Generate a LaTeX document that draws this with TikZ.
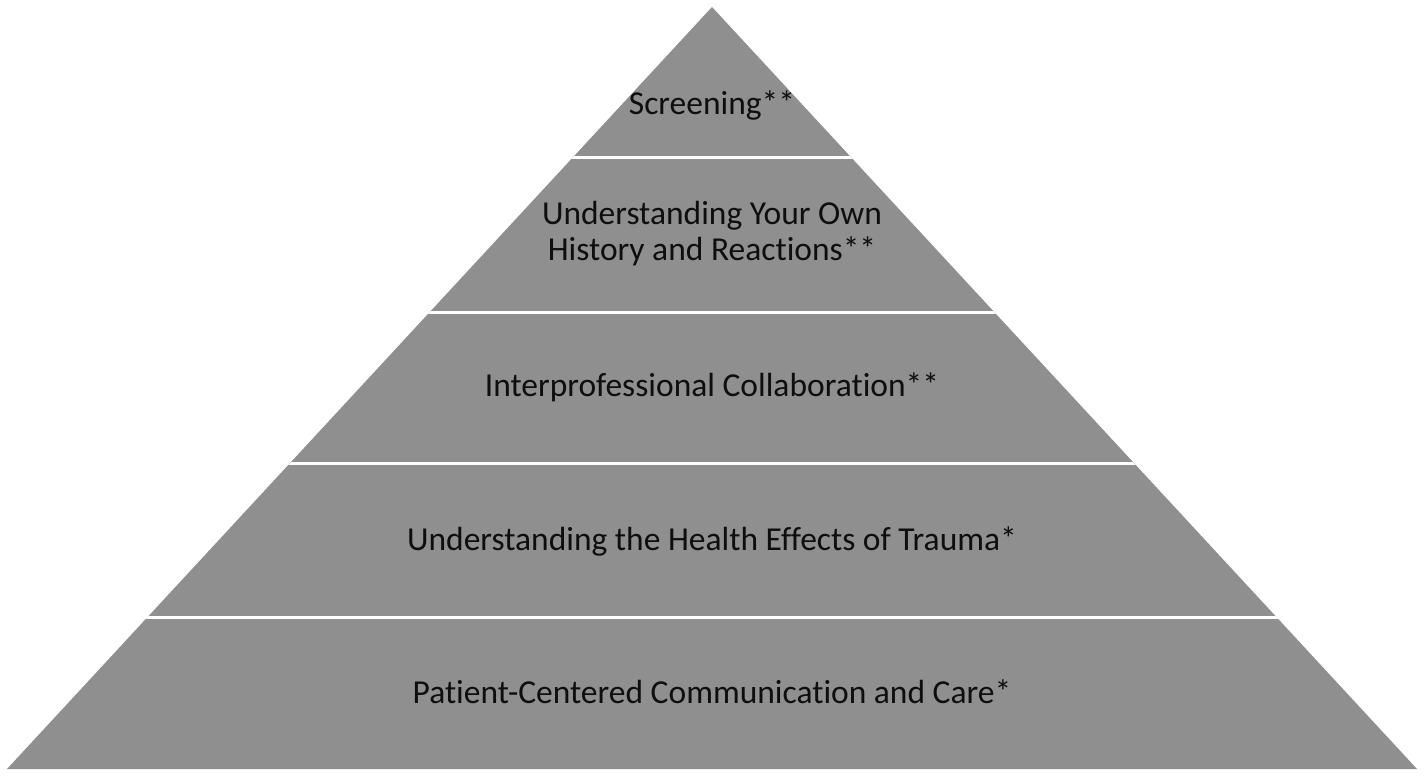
\documentclass[tikz,border=0pt]{standalone}
\usepackage{fontspec}
\setmainfont{Carlito}[Ligatures=NoCommon]
\definecolor{layergray}{HTML}{8F8F8F}
\definecolor{txtcol}{HTML}{0E0E0E}
\begin{document}
\begin{tikzpicture}[x=1pt,y=-1pt,
  layertext/.style={text=txtcol, font=\fontsize{33.5}{36}\selectfont, align=center, inner sep=0pt},
  sep/.style={white, line width=3pt}]
\useasboundingbox[fill=white] (0,0) rectangle (1426,777);
\coordinate (apex) at (712,7);
\coordinate (bl) at (7,769);
\coordinate (br) at (1417,769);
\fill[layergray] (apex) -- (bl) -- (br) -- cycle;
\begin{scope}
  \clip (apex) -- (bl) -- (br) -- cycle;
  \foreach \y in {157,312,463,617} \draw[sep] (0,\y) -- (1426,\y);
\end{scope}
\node[layertext] (l1) at (712,105) {Screening**};
\node[layertext] (l2) at (712,234) {Understanding Your Own\\History and Reactions**};
\node[layertext] (l3) at (712,387) {Interprofessional Collaboration**};
\node[layertext] (l4) at (712,541) {Understanding the Health Effects of Trauma*};
\node[layertext] (l5) at (712,692) {Patient-Centered Communication and Care*};
\end{tikzpicture}
\end{document}
